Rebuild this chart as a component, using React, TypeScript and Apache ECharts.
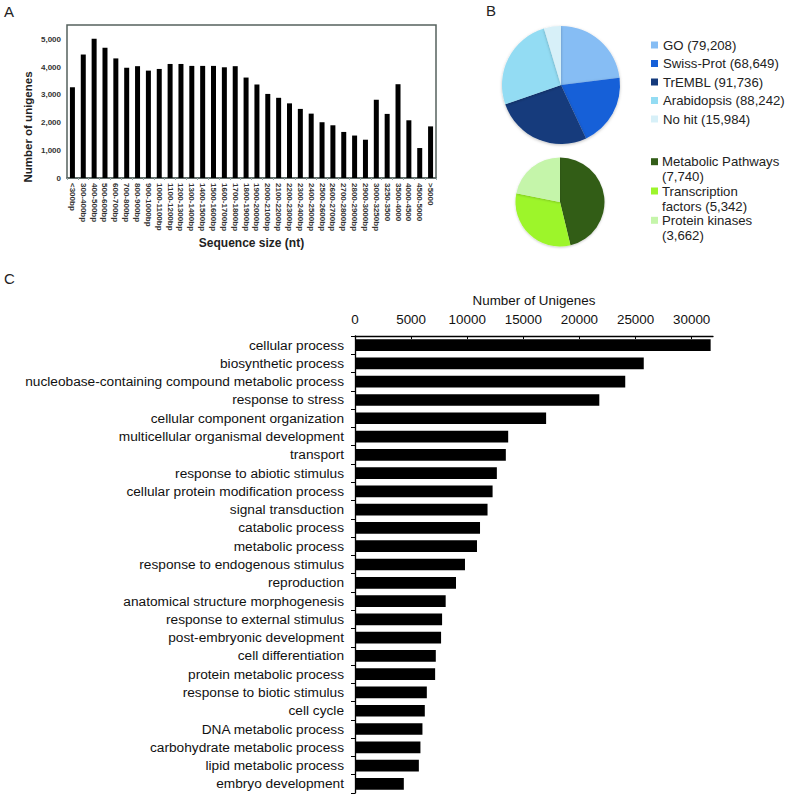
import React, { useEffect, useRef } from "react";
import * as echarts from "echarts";

const FONT = 'Arial, "Liberation Sans", Helvetica, sans-serif';

// Panel A: sequence size distribution
const seqSizes = [
  "<300bp", "300-400bp", "400-500bp", "500-600bp", "600-700bp", "700-800bp", "800-900bp",
  "900-1000bp", "1000-1100bp", "1100-1200bp", "1200-1300bp", "1300-1400bp", "1400-1500bp",
  "1500-1600bp", "1600-1700bp", "1700-1800bp", "1800-1900bp", "1900-2000bp", "2000-2100bp",
  "2100-2200bp", "2200-2300bp", "2300-2400bp", "2400-2500bp", "2500-2600bp", "2600-2700bp",
  "2700-2800bp", "2800-2900bp", "2900-3000bp", "3000-3250bp", "3250-3500", "3500-4000",
  "4000-4500", "4500-5000", ">5000",
];
const unigeneCounts = [
  3270, 4450, 5020, 4690, 4310, 3970, 4030, 3870, 3930, 4110, 4110, 4040, 4040, 4040, 3990,
  4030, 3620, 3370, 3030, 2890, 2690, 2490, 2320, 2010, 1900, 1660, 1530, 1380, 2820, 2310,
  3380, 2080, 1080, 1860,
];
const countTicks = [0, 1000, 2000, 3000, 4000, 5000];

// Panel B: annotation pies
const dbNames = ["GO", "Swiss-Prot", "TrEMBL", "Arabidopsis", "No hit"];
const dbValues = [79208, 68649, 91736, 88242, 15984];
const dbColors = ["#86bdf4", "#1660d8", "#143a7c", "#93dcf3", "#d7f0f8"];

const funcNames = ["Metabolic Pathways", "Transcription factors", "Protein kinases"];
const funcLegendLines = [
  ["Metabolic Pathways", "(7,740)"],
  ["Transcription", "factors (5,342)"],
  ["Protein kinases", "(3,662)"],
];
const funcValues = [7740, 5342, 3662];
const funcColors = ["#335d18", "#9df52b", "#c5f5aa"];

// Panel C: GO biological process
const goTerms = [
  "cellular process", "biosynthetic process", "nucleobase-containing compound metabolic process",
  "response to stress", "cellular component organization", "multicellular organismal development",
  "transport", "response to abiotic stimulus", "cellular protein modification process",
  "signal transduction", "catabolic process", "metabolic process", "response to endogenous stimulus",
  "reproduction", "anatomical structure morphogenesis", "response to external stimulus",
  "post-embryonic development", "cell differentiation", "protein metabolic process",
  "response to biotic stimulus", "cell cycle", "DNA metabolic process",
  "carbohydrate metabolic process", "lipid metabolic process", "embryo development",
];
const goCounts = [
  31690, 25730, 24080, 21770, 17030, 13650, 13440, 12640, 12260, 11810, 11140, 10870, 9800,
  9000, 8080, 7760, 7670, 7200, 7140, 6400, 6220, 6010, 5830, 5690, 4350,
];
const goTicks = [0, 5000, 10000, 15000, 20000, 25000, 30000];

export default function App() {
  const ref = useRef<HTMLDivElement>(null);
  useEffect(() => {
    if (!ref.current) return;
    const chart = echarts.init(ref.current, null, { renderer: "svg" });

    const funcLegendGraphics: any[] = [];
    funcLegendLines.forEach((lines, i) => {
      const y0 = 161.7 + i * 29.3;
      funcLegendGraphics.push({
        type: "rect",
        shape: { x: 651, y: y0 - 3.5, width: 7, height: 7 },
        style: { fill: funcColors[i] },
      });
      funcLegendGraphics.push({
        type: "text",
        x: 662,
        y: y0 - 7.5,
        style: {
          text: lines.join("\n"),
          font: `13.2px ${FONT}`,
          fill: "#222",
          lineHeight: 15,
          verticalAlign: "top",
        },
      });
    });

    chart.setOption({
      animation: false,
      textStyle: { fontFamily: FONT },
      grid: [
        { left: 67, top: 25, width: 369, height: 153, show: true, borderColor: "#56615d", borderWidth: 1.5, backgroundColor: "#fff" },
        { left: 355, top: 336, width: 358, height: 457 },
      ],
      xAxis: [
        {
          gridIndex: 0,
          type: "category",
          data: seqSizes,
          axisLine: { show: true, lineStyle: { color: "#56615d", width: 1.5 } },
          axisTick: { show: true, length: 2, lineStyle: { color: "#9aa" } },
          axisLabel: {
            interval: 0,
            rotate: -90,
            fontSize: 8,
            fontWeight: "bold",
            color: "#333",
            margin: 5,
            fontFamily: FONT,
          },
          name: "Sequence size (nt)",
          nameLocation: "middle",
          nameGap: 59,
          nameTextStyle: { fontSize: 12, fontWeight: "bold", color: "#222", fontFamily: FONT },
        },
        {
          gridIndex: 1,
          type: "value",
          position: "top",
          min: 0,
          max: 31900,
          interval: 5000,
          axisLine: { show: true, lineStyle: { color: "#000", width: 1.3 } },
          axisTick: { show: true, inside: true, length: 3, customValues: goTicks, lineStyle: { color: "#000" } },
          axisLabel: {
            fontSize: 13.4,
            color: "#111",
            margin: 10,
            fontFamily: FONT,
            customValues: goTicks,
            formatter: (v: number) => (goTicks.includes(v) ? String(v) : ""),
          },
          splitLine: { show: false },
          name: "Number of Unigenes",
          nameLocation: "middle",
          nameGap: 29,
          nameTextStyle: { fontSize: 13.4, color: "#111", fontFamily: FONT },
        },
      ],
      yAxis: [
        {
          gridIndex: 0,
          type: "value",
          min: 0,
          max: 5514,
          interval: 1000,
          axisLine: { show: false },
          axisTick: { show: false },
          splitLine: { show: false },
          axisLabel: {
            fontSize: 8,
            fontWeight: "bold",
            color: "#333",
            margin: 6,
            fontFamily: FONT,
            customValues: countTicks,
            formatter: (v: number) => (countTicks.includes(v) ? v.toLocaleString("en-US") : ""),
          },
        },
        {
          gridIndex: 1,
          type: "category",
          inverse: true,
          data: goTerms,
          axisLine: { show: true, lineStyle: { color: "#000", width: 1.3 } },
          axisTick: { show: true, length: 4, alignWithLabel: false, lineStyle: { color: "#000" } },
          axisLabel: { interval: 0, fontSize: 13.7, color: "#111", margin: 11, fontFamily: FONT },
        },
      ],
      legend: [
        {
          orient: "vertical",
          left: 646,
          top: 33,
          itemWidth: 7,
          itemHeight: 7,
          itemGap: 4.5,
          icon: "rect",
          data: dbNames,
          selectedMode: false,
          formatter: (name: string) => {
            const i = dbNames.indexOf(name);
            return `${name} (${dbValues[i].toLocaleString("en-US")})`;
          },
          textStyle: { fontSize: 13.2, color: "#222", lineHeight: 14, fontFamily: FONT },
        },
      ],
      series: [
        {
          type: "bar",
          xAxisIndex: 0,
          yAxisIndex: 0,
          data: unigeneCounts,
          barWidth: 5,
          itemStyle: { color: "#000" },
        },
        {
          type: "pie",
          center: [561, 85],
          radius: 59,
          startAngle: 90,
          clockwise: true,
          label: { show: false },
          labelLine: { show: false },
          silent: true,
          itemStyle: { shadowBlur: 3, shadowColor: "rgba(0,0,0,0.25)", shadowOffsetY: 1 },
          data: dbNames.map((n, i) => ({ name: n, value: dbValues[i], itemStyle: { color: dbColors[i] } })),
        },
        {
          type: "pie",
          center: [560, 202],
          radius: 44.5,
          startAngle: 90,
          clockwise: true,
          label: { show: false },
          labelLine: { show: false },
          silent: true,
          itemStyle: { shadowBlur: 2, shadowColor: "rgba(0,0,0,0.2)", shadowOffsetY: 1 },
          data: funcNames.map((n, i) => ({ name: n, value: funcValues[i], itemStyle: { color: funcColors[i] } })),
        },
        {
          type: "bar",
          xAxisIndex: 1,
          yAxisIndex: 1,
          data: goCounts,
          barCategoryGap: "36%",
          itemStyle: { color: "#000" },
        },
      ],
      graphic: [
        { type: "text", left: 4, top: 4, style: { text: "A", font: `15px ${FONT}`, fill: "#222" } },
        { type: "text", left: 486, top: 3, style: { text: "B", font: `15px ${FONT}`, fill: "#222" } },
        { type: "text", left: 4, top: 271, style: { text: "C", font: `15px ${FONT}`, fill: "#222" } },
        {
          type: "text",
          x: 28,
          y: 127,
          rotation: Math.PI / 2,
          style: {
            text: "Number of unigenes",
            font: `bold 11.5px ${FONT}`,
            fill: "#222",
            align: "center",
            verticalAlign: "middle",
          },
        },
        ...funcLegendGraphics,
      ],
    });
    return () => chart.dispose();
  }, []);
  return <div ref={ref} style={{ position: "fixed", left: 0, top: 0, width: 787, height: 798, background: "#fff" }} />;
}
